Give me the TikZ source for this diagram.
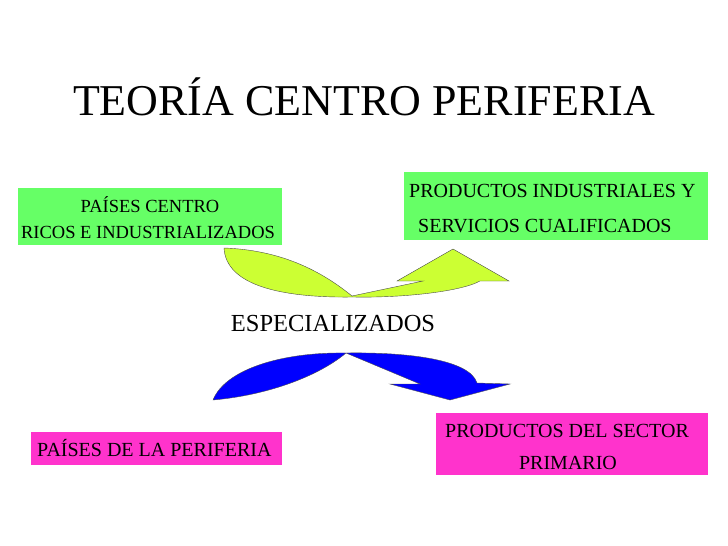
\documentclass[tikz,border=0pt]{standalone}
\usepackage{fontspec}
\setmainfont{Liberation Serif}
\usetikzlibrary{positioning}
\definecolor{boxgreen}{RGB}{102,255,102}
\definecolor{boxpink}{RGB}{255,51,204}
\definecolor{arrowlime}{RGB}{204,255,51}
\tikzset{greenbox/.style={fill=boxgreen, inner sep=0pt, anchor=north west}}
\tikzset{pinkbox/.style={fill=boxpink, inner sep=0pt, anchor=north west}}
\tikzset{boxtext/.style={inner sep=0pt, font=\fontsize{20}{22}\selectfont}}
\begin{document}
\begin{tikzpicture}[x=1pt, y=-1pt]
  \useasboundingbox (0,0) rectangle (728,546);

  \node [font=\fontsize{44}{48}\selectfont] (title) at (364,97) {TEORÍA CENTRO PERIFERIA};

  % boxes
  \node [greenbox, minimum width=264pt, minimum height=57pt] (centro) at (18,188) {};
  \node [boxtext, font=\fontsize{18.5}{20}\selectfont] at (150,205) {PAÍSES CENTRO};
  \node [boxtext, font=\fontsize{18.5}{20}\selectfont] at (148,232) {RICOS E INDUSTRIALIZADOS};

  \node [greenbox, minimum width=304pt, minimum height=68pt] (industria) at (404,172) {};
  \node [boxtext, anchor=west] at (409,191) {PRODUCTOS INDUSTRIALES Y};
  \node [boxtext, anchor=west] at (418,226) {SERVICIOS CUALIFICADOS};

  \node [pinkbox, minimum width=251pt, minimum height=33pt] (periferia) at (31,432) {};
  \node [boxtext, anchor=west] at (37,448) {PAÍSES DE LA PERIFERIA};

  \node [pinkbox, minimum width=272pt, minimum height=62pt] (primario) at (436,413) {};
  \node [boxtext] at (567,431) {PRODUCTOS DEL SECTOR};
  \node [boxtext] at (568,463) {PRIMARIO};

  \node [font=\fontsize{24.5}{26}\selectfont] (espec) at (333,324) {ESPECIALIZADOS};

  % curved arrows
  \draw [fill=arrowlime, draw=black!70, thin]
    (224,248) .. controls (280,250) and (320,270) .. (352,296)
    -- (423,281) -- (397,281) -- (453,249) -- (509,281) -- (480,281)
    .. controls (460,292) and (400,298) .. (353,297)
    .. controls (280,298) and (226,285) .. cycle;

  \draw [fill=blue, draw=black!70, thin]
    (346,353) .. controls (280,352) and (225,370) .. (213,400)
    .. controls (270,395) and (320,375) .. (346,353)
    -- (420,384) -- (390,384) -- (450,400) -- (510,384) -- (477,383)
    .. controls (470,360) and (410,352) .. (346,353) -- cycle;
\end{tikzpicture}
\end{document}
